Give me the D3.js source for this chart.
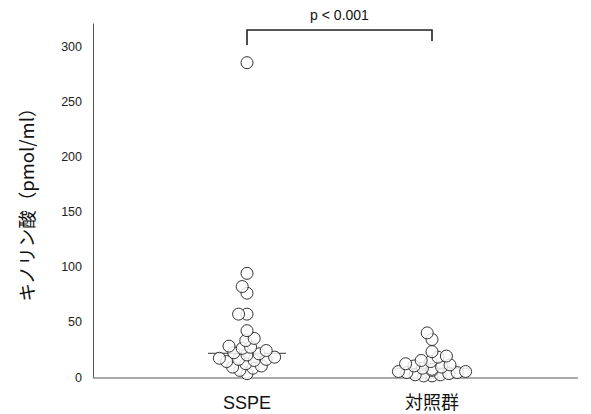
<!DOCTYPE html>
<html>
<head>
<meta charset="utf-8">
<script src="https://cdn.jsdelivr.net/npm/d3@7"></script>
<style>
  body { margin: 0; background: #fff; }
  text { font-family: "Liberation Sans", Arial, "Noto Sans CJK JP", sans-serif; }
  .jp { font-family: "Noto Sans CJK JP", sans-serif; }
</style>
</head>
<body>
<svg id="chart" width="591" height="414"></svg>
<script>
// Data
const categories = ['SSPE', '対照群'];
const ssgeValues = [285, 94, 82, 76, 57, 57, 42, 35, 33, 28, 27, 26, 24, 22,
                    21, 20, 18, 17, 16, 16, 15, 14, 12, 10, 9, 8, 6, 3];
const controlValues = [40, 34, 23, 19, 18, 15, 14, 12, 11, 10, 9, 8, 7, 6,
                       5, 5, 4, 4, 3, 2, 2, 1, 1];
const yTicks = [0, 50, 100, 150, 200, 250, 300];
const yLabel = 'キノリン酸（pmol/ml）';
const pLabel = 'p < 0.001';

const svg = d3.select('#chart');

const axisLeft = 93, axisRight = 578;
const y = d3.scaleLinear().domain([0, 321]).range([377, 23]);
const x = d3.scalePoint().domain(categories).range([247, 432]);
const r = 6;

// simple deterministic beeswarm: nearest free horizontal offset
function swarm(values, cx) {
    const placed = [];
    const sorted = values.slice().sort((a, b) => a - b);
    const minDist = r * 1.3;
    sorted.forEach(v => {
        const cy = y(v);
        let best = 0;
        for (let k = 0; k < 60; k++) {
            const off = (k % 2 === 0 ? 1 : -1) * Math.ceil(k / 2) * 1.2;
            const ok = placed.every(p => Math.hypot(p.x - (cx + off), p.y - cy) >= minDist);
            if (ok) { best = off; break; }
        }
        placed.push({ x: cx + best, y: cy, v });
    });
    return placed;
}

const groups = [
    { cat: 'SSPE', values: ssgeValues, half: 39 },
    { cat: '対照群', values: controlValues, half: 38 }
];

// axes
const yAxis = d3.axisLeft(y).tickValues(yTicks).tickSize(0).tickPadding(11);
const gy = svg.append('g').attr('transform', `translate(${axisLeft},0)`).call(yAxis);
gy.select('.domain').attr('stroke', '#555').attr('stroke-width', 1);
gy.selectAll('text').attr('font-size', 12.5).attr('fill', '#222');

svg.append('line')
    .attr('x1', axisLeft).attr('x2', axisRight)
    .attr('y1', 378).attr('y2', 378)
    .attr('stroke', '#555').attr('stroke-width', 1);

svg.selectAll('.cat')
    .data(categories)
    .enter().append('text')
    .attr('class', d => d === 'SSPE' ? 'cat' : 'cat jp')
    .attr('x', d => x(d))
    .attr('y', 409)
    .attr('text-anchor', 'middle')
    .attr('font-size', 18)
    .attr('fill', '#111')
    .text(d => d);

svg.append('text')
    .attr('class', 'jp')
    .attr('transform', 'translate(34,200) rotate(-90)')
    .attr('text-anchor', 'middle')
    .attr('font-size', 18.5)
    .attr('fill', '#111')
    .text(yLabel);

// points and medians
groups.forEach(g => {
    const pts = swarm(g.values, x(g.cat));
    const med = d3.median(g.values);
    svg.append('line')
        .attr('x1', x(g.cat) - g.half).attr('x2', x(g.cat) + g.half)
        .attr('y1', y(med)).attr('y2', y(med))
        .attr('stroke', '#333').attr('stroke-width', 1);
    svg.append('g').selectAll('circle')
        .data(pts)
        .enter().append('circle')
        .attr('cx', d => d.x)
        .attr('cy', d => d.y)
        .attr('r', r)
        .attr('fill', 'rgba(255,255,255,0.8)')
        .attr('stroke', '#333')
        .attr('stroke-width', 1);
});

// significance bracket
const x1 = x(categories[0]), x2 = x(categories[1]);
svg.append('path')
    .attr('d', `M${x1},45 V30 H${x2} V41`)
    .attr('fill', 'none')
    .attr('stroke', '#222')
    .attr('stroke-width', 1.6);

svg.append('text')
    .attr('x', (x1 + x2) / 2)
    .attr('y', 20)
    .attr('text-anchor', 'middle')
    .attr('font-size', 14)
    .attr('fill', '#111')
    .text(pLabel);
</script>
</body>
</html>
